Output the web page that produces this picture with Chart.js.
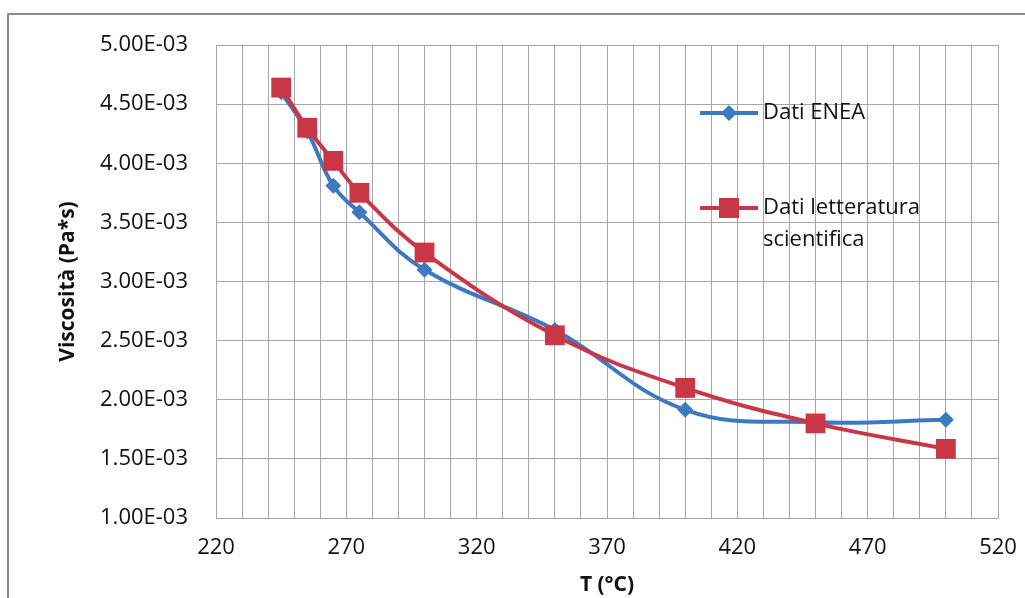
<!DOCTYPE html>
<html lang="it">
<head>
<meta charset="UTF-8">
<title>Viscosità</title>
<script src="https://cdn.jsdelivr.net/npm/chart.js@4/dist/chart.umd.min.js"></script>
<style>
    body { margin: 0; background: #fff; }
    #wrap { position: relative; width: 1025px; height: 598px; overflow: hidden; }
    #frame { position: absolute; left: 7px; top: 13px; width: 1040px; height: 620px; border: 2px solid #8a8a8a; box-sizing: border-box; }
    canvas { position: absolute; left: 0; top: 0; }
</style>
</head>
<body>
<div id="wrap">
    <div id="frame"></div>
    <canvas id="myChart" width="1025" height="598"></canvas>
</div>
<script>
    // temperature (°C)
    var tempX = [245, 255, 265, 275, 300, 350, 400, 450, 500];
    // viscosità (Pa*s)
    var eneaValues = [4.60e-3, 4.27e-3, 3.81e-3, 3.585e-3, 3.10e-3, 2.59e-3, 1.915e-3, 1.81e-3, 1.83e-3];
    var letteraturaValues = [4.64e-3, 4.30e-3, 4.02e-3, 3.75e-3, 3.245e-3, 2.545e-3, 2.10e-3, 1.80e-3, 1.585e-3];

    var xTickLabels = [220, 270, 320, 370, 420, 470, 520];
    var seriesNames = ["Dati ENEA", ["Dati letteratura", "scientifica"]];

    var blue = '#3d79c1';
    var red = '#c93747';
    var font = "'Open Sans', Lato, sans-serif";

    function fmtExp(v) {
        var s = v.toExponential(2).toUpperCase();   // 5.00E-3
        return s.replace(/E([+-])(\d)$/, 'E$10$2');
    }

    function toPts(xs, ys) {
        var out = [];
        for (var i = 0; i < xs.length; i++) out.push({x: xs[i], y: ys[i]});
        return out;
    }

    // legend drawn inside the plot, like the excel one
    var insideLegend = {
        id: 'insideLegend',
        afterDraw: function (chart) {
            var ctx = chart.ctx;
            ctx.save();
            ctx.font = "22px " + font;
            ctx.fillStyle = '#111';
            ctx.textBaseline = 'middle';
            ctx.lineWidth = 4;

            // Dati ENEA
            ctx.strokeStyle = blue;
            ctx.beginPath(); ctx.moveTo(700, 113); ctx.lineTo(758, 113); ctx.stroke();
            ctx.fillStyle = blue;
            ctx.beginPath();
            ctx.moveTo(729, 105); ctx.lineTo(737, 113); ctx.lineTo(729, 121); ctx.lineTo(721, 113);
            ctx.closePath(); ctx.fill();
            ctx.fillStyle = '#111';
            ctx.fillText(seriesNames[0], 763, 113);

            // Dati letteratura scientifica
            ctx.strokeStyle = red;
            ctx.beginPath(); ctx.moveTo(700, 208); ctx.lineTo(758, 208); ctx.stroke();
            ctx.fillStyle = red;
            ctx.fillRect(719, 198, 20, 20);
            ctx.fillStyle = '#111';
            ctx.fillText(seriesNames[1][0], 763, 208);
            ctx.fillText(seriesNames[1][1], 763, 240);
            ctx.restore();
        }
    };

    var config = {
        type: 'line',
        data: {
            datasets: [{
                label: "Dati ENEA",
                data: toPts(tempX, eneaValues),
                borderColor: blue,
                backgroundColor: blue,
                borderWidth: 4,
                pointStyle: 'rectRot',
                pointRadius: 8,
                pointBorderWidth: 0,
                tension: 0.4,
                fill: false,
                order: 2
            }, {
                label: "Dati letteratura scientifica",
                data: toPts(tempX, letteraturaValues),
                borderColor: red,
                backgroundColor: red,
                borderWidth: 4,
                pointStyle: 'rect',
                pointRadius: 14,
                pointBorderWidth: 0,
                tension: 0.4,
                fill: false,
                order: 1
            }]
        },
        options: {
            responsive: false,
            animation: false,
            layout: {padding: {left: 0, top: 45, right: 27, bottom: 0}},
            plugins: {
                legend: {display: false},
                tooltip: {enabled: false}
            },
            scales: {
                x: {
                    type: 'linear',
                    min: 220,
                    max: 520,
                    afterFit: function (s) { s.height = 80; s.paddingRight = 0; },
                    grid: {color: '#a6a6a6', lineWidth: 1, drawTicks: false},
                    border: {color: '#a6a6a6'},
                    ticks: {
                        stepSize: 10,
                        padding: 17,
                        color: '#111',
                        font: {family: font, size: 22},
                        autoSkip: false,
                        maxRotation: 0,
                        callback: function (v) {
                            return xTickLabels.indexOf(v) >= 0 ? String(v) : '';
                        }
                    },
                    title: {
                        display: true,
                        text: 'T (°C)',
                        color: '#111',
                        font: {family: font, size: 21, weight: 'bold'},
                        padding: {top: 0, bottom: 0}
                    }
                },
                y: {
                    min: 1e-3,
                    max: 5e-3,
                    afterFit: function (s) { s.width = 216; },
                    grid: {color: '#a6a6a6', lineWidth: 1, drawTicks: false},
                    border: {color: '#a6a6a6'},
                    ticks: {
                        stepSize: 5e-4,
                        padding: 28,
                        color: '#111',
                        font: {family: font, size: 22},
                        callback: function (v) { return fmtExp(v); }
                    },
                    title: {
                        display: true,
                        text: 'Viscosità (Pa*s)',
                        color: '#111',
                        font: {family: font, size: 21, weight: 'bold'},
                        padding: {top: 55, bottom: 0}
                    }
                }
            }
        },
        plugins: [insideLegend]
    };

    var ctx = document.getElementById("myChart").getContext("2d");
    new Chart(ctx, config);
</script>
</body>
</html>
